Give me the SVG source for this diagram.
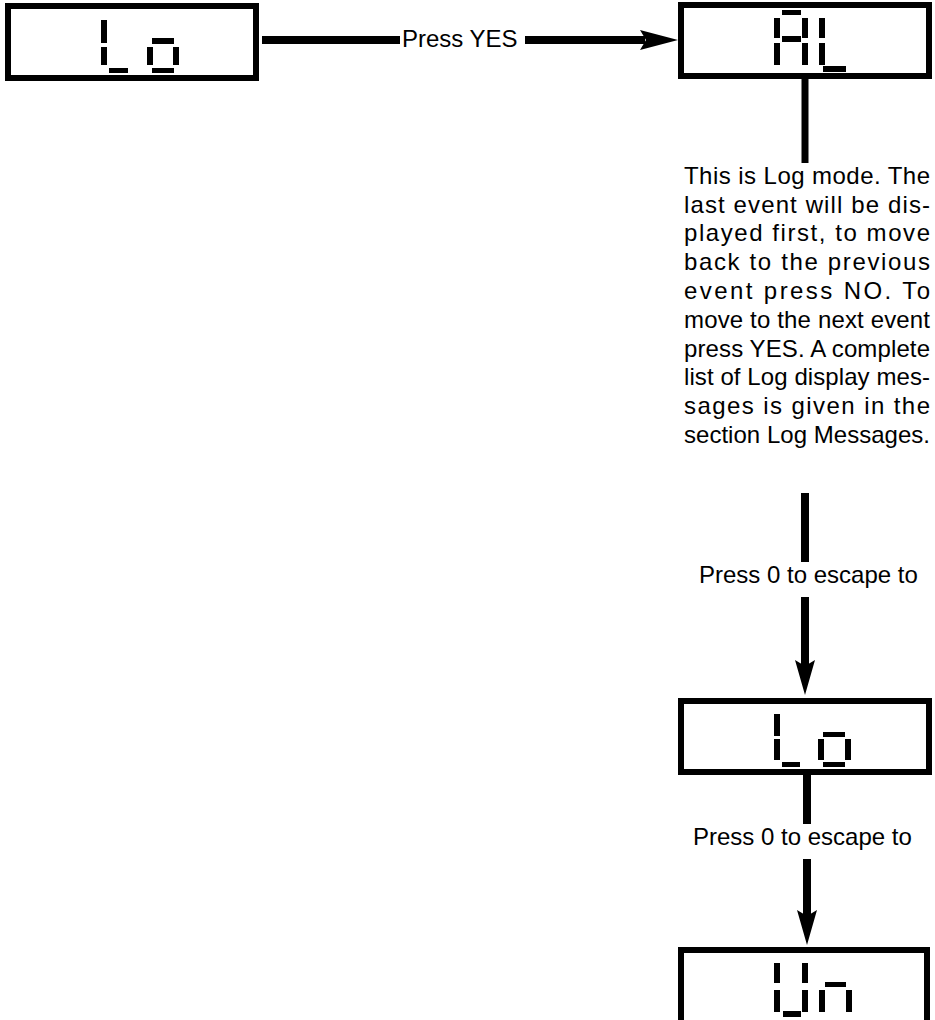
<svg xmlns="http://www.w3.org/2000/svg" width="935" height="1020" viewBox="0 0 935 1020">
<style>
.box{fill:#fff;stroke:#000;stroke-width:6}
.seg{fill:#000}
.lbl{font-family:"Liberation Sans",Arial,Helvetica,sans-serif;font-size:24px;fill:#000}
.wire{stroke:#000;stroke-width:8;fill:none}
.head{fill:#000}
</style>
<rect width="935" height="1020" fill="#fff"/>
<g id="connectors">
  <line class="wire" x1="262" y1="40" x2="400" y2="40"/>
  <line class="wire" x1="525" y1="40" x2="645" y2="40"/>
  <polygon class="head" points="640,30 678,40 640,50 646,40"/>
  <line class="wire" x1="805" y1="79" x2="805" y2="163" style="stroke-width:7"/>
  <line class="wire" x1="805" y1="493" x2="805" y2="562"/>
  <line class="wire" x1="805" y1="597" x2="805" y2="666"/>
  <polygon class="head" points="795,660 805,666 815,660 805,695"/>
  <line class="wire" x1="807" y1="773" x2="807" y2="824"/>
  <line class="wire" x1="807" y1="859" x2="807" y2="916"/>
  <polygon class="head" points="797,910 807,916 817,910 807,945"/>
  <text class="lbl" x="402" y="47">Press YES</text>
  <text class="lbl" x="699" y="583">Press 0 to escape to</text>
  <text class="lbl" x="693" y="845">Press 0 to escape to</text>
</g>
<g id="node-lo-top">
  <title>Lo</title>
  <rect class="box" x="8" y="6" width="248" height="72"/>
  <rect class="seg" x="101" y="20" width="6" height="23"/>
  <rect class="seg" x="101" y="47" width="6" height="18"/>
  <rect class="seg" x="109" y="68" width="19" height="5"/>
  <rect class="seg" x="152" y="38" width="22" height="6"/>
  <rect class="seg" x="147" y="47" width="6" height="18"/>
  <rect class="seg" x="173" y="47" width="6" height="18"/>
  <rect class="seg" x="152" y="68" width="22" height="5"/>
</g>
<g id="node-al">
  <title>AL</title>
  <rect class="box" x="681" y="5" width="248" height="71"/>
  <rect class="seg" x="782" y="10" width="19" height="5"/>
  <rect class="seg" x="774" y="18" width="6" height="20"/>
  <rect class="seg" x="782" y="36" width="19" height="6"/>
  <rect class="seg" x="774" y="43" width="6" height="22"/>
  <rect class="seg" x="802" y="18" width="6" height="20"/>
  <rect class="seg" x="802" y="43" width="6" height="22"/>
  <rect class="seg" x="819" y="18" width="6" height="20"/>
  <rect class="seg" x="819" y="43" width="6" height="22"/>
  <rect class="seg" x="823" y="66" width="23" height="6"/>
</g>
<g id="note-log-mode">
  <text class="lbl" x="684" y="184" textLength="246" lengthAdjust="spacing">This is Log mode. The</text>
  <text class="lbl" x="684" y="213" textLength="246" lengthAdjust="spacing">last event will be dis-</text>
  <text class="lbl" x="684" y="241" textLength="246" lengthAdjust="spacing">played first, to move</text>
  <text class="lbl" x="684" y="270" textLength="246" lengthAdjust="spacing">back to the previous</text>
  <text class="lbl" x="684" y="299" textLength="246" lengthAdjust="spacing">event press NO. To</text>
  <text class="lbl" x="684" y="328" textLength="246" lengthAdjust="spacing">move to the next event</text>
  <text class="lbl" x="684" y="357" textLength="246" lengthAdjust="spacing">press YES. A complete</text>
  <text class="lbl" x="684" y="385" textLength="246" lengthAdjust="spacing">list of Log display mes-</text>
  <text class="lbl" x="684" y="414" textLength="246" lengthAdjust="spacing">sages is given in the</text>
  <text class="lbl" x="684" y="443" textLength="246" lengthAdjust="spacing">section Log Messages.</text>
</g>
<g id="node-lo-mid">
  <title>Lo</title>
  <rect class="box" x="681" y="701" width="248" height="71"/>
  <rect class="seg" x="774" y="714" width="6" height="22"/>
  <rect class="seg" x="774" y="739" width="6" height="21"/>
  <rect class="seg" x="782" y="762" width="18" height="5"/>
  <rect class="seg" x="823" y="732" width="22" height="5"/>
  <rect class="seg" x="818" y="739" width="6" height="21"/>
  <rect class="seg" x="845" y="739" width="6" height="21"/>
  <rect class="seg" x="823" y="762" width="22" height="5"/>
</g>
<g id="node-un">
  <title>Un</title>
  <rect class="box" x="681" y="950" width="246" height="80"/>
  <rect class="seg" x="774" y="963" width="6" height="20"/>
  <rect class="seg" x="774" y="990" width="6" height="22"/>
  <rect class="seg" x="783" y="1011" width="18" height="6"/>
  <rect class="seg" x="802" y="963" width="6" height="20"/>
  <rect class="seg" x="802" y="990" width="6" height="22"/>
  <rect class="seg" x="825" y="982" width="21" height="5"/>
  <rect class="seg" x="819" y="990" width="6" height="22"/>
  <rect class="seg" x="846" y="990" width="6" height="22"/>
</g>
</svg>
